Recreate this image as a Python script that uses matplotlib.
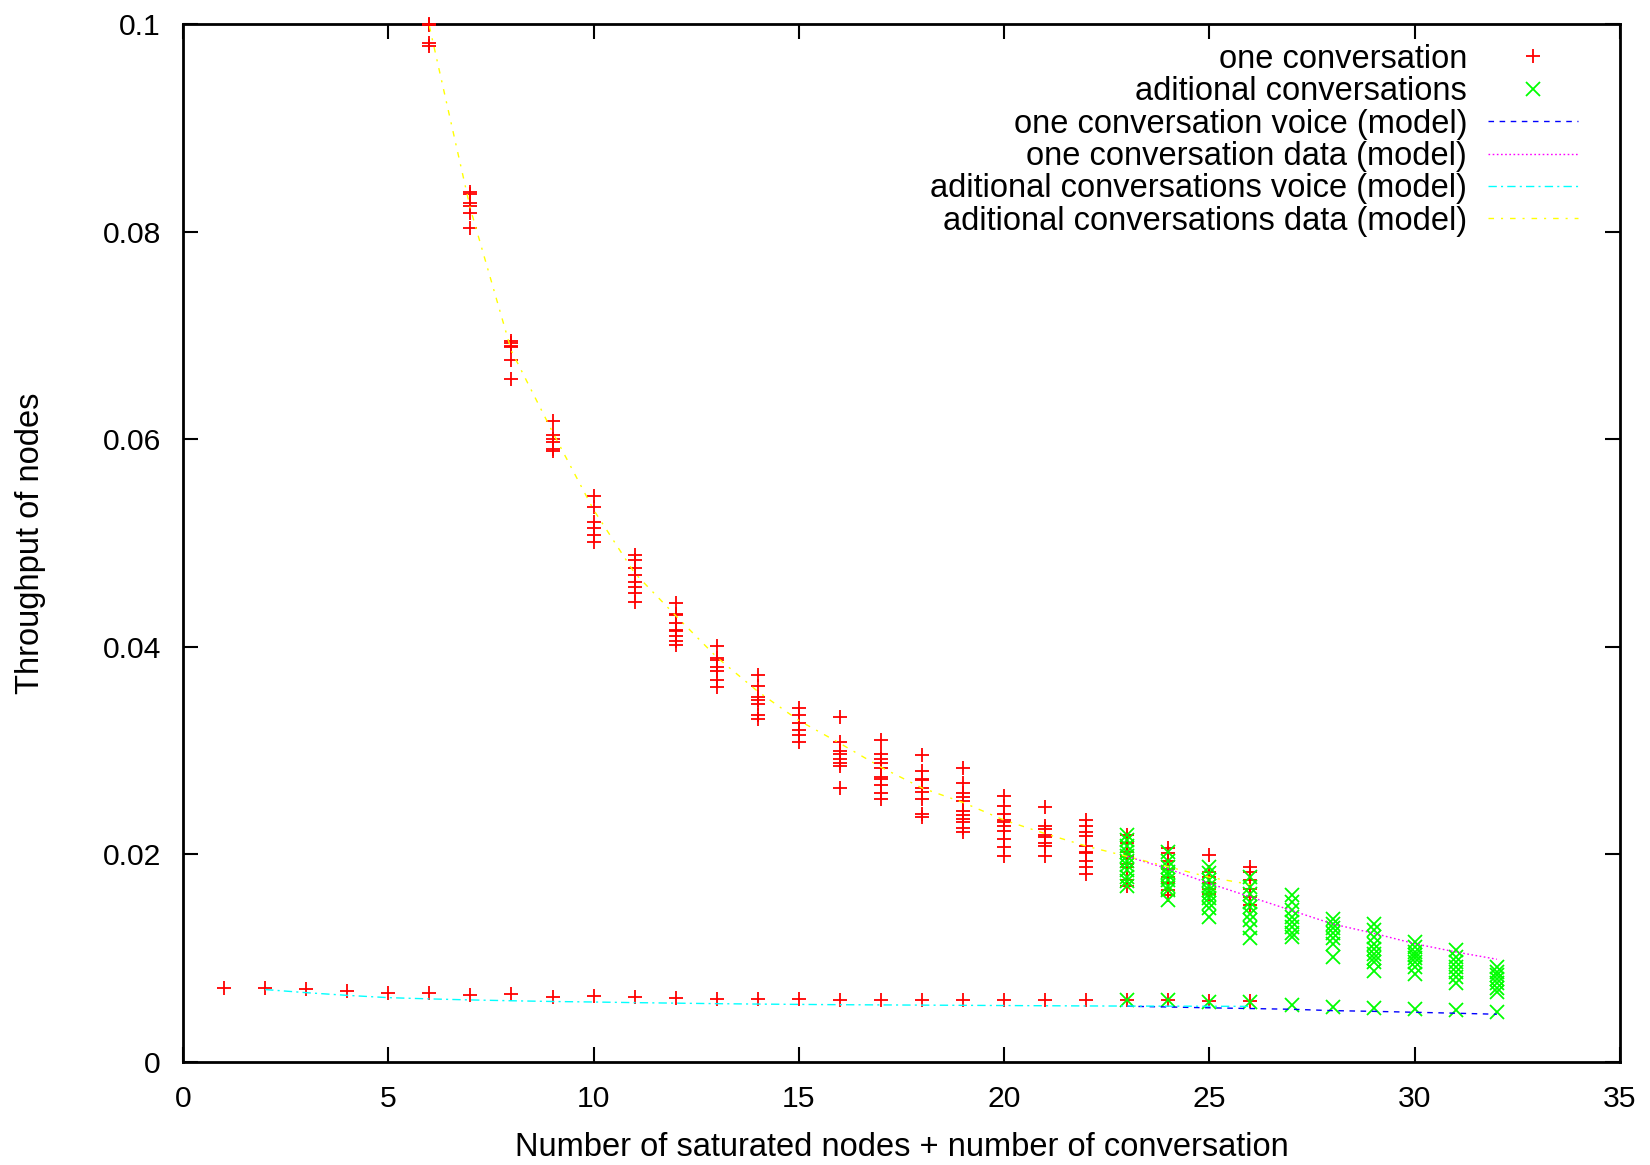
import matplotlib
matplotlib.use("Agg")
import matplotlib.pyplot as plt

plt.rcParams['font.family'] = ['Liberation Sans', 'DejaVu Sans']

# ---------------- data ----------------
# "one conversation" measurements (red +), upper cluster
one_conv_group_x = list(range(6, 27))
one_conv_groups = [
    [0.1000, 0.0999, 0.0982, 0.0979],                                   # 6
    [0.0838, 0.0836, 0.0828, 0.0825, 0.0818, 0.0803],                   # 7
    [0.0695, 0.0693, 0.0690, 0.0689, 0.0676, 0.0658],                   # 8
    [0.0618, 0.0604, 0.0600, 0.0597, 0.0591, 0.0589],                   # 9
    [0.0545, 0.0535, 0.0520, 0.0514, 0.0508, 0.0501],                   # 10
    [0.0488, 0.0484, 0.0476, 0.0469, 0.0462, 0.0458, 0.0452, 0.0443],   # 11
    [0.0442, 0.0432, 0.0431, 0.0423, 0.0416, 0.0415, 0.0410, 0.0406, 0.0402],  # 12
    [0.0401, 0.0389, 0.0387, 0.0381, 0.0377, 0.0368, 0.0361],           # 13
    [0.0373, 0.0362, 0.0352, 0.0349, 0.0345, 0.0334, 0.0330],           # 14
    [0.0341, 0.0334, 0.0327, 0.0320, 0.0315, 0.0308],                   # 15
    [0.0332, 0.0308, 0.0300, 0.0297, 0.0292, 0.0288, 0.0285, 0.0264],   # 16
    [0.0310, 0.0297, 0.0292, 0.0288, 0.0283, 0.0275, 0.0273, 0.0267, 0.0259, 0.0253],  # 17
    [0.0296, 0.0280, 0.0273, 0.0272, 0.0264, 0.0260, 0.0253, 0.0239, 0.0236],  # 18
    [0.0283, 0.0269, 0.0259, 0.0255, 0.0251, 0.0242, 0.0238, 0.0234, 0.0231, 0.0225, 0.0222],  # 19
    [0.0256, 0.0247, 0.0239, 0.0233, 0.0231, 0.0227, 0.0223, 0.0215, 0.0207, 0.0198],  # 20
    [0.0246, 0.0227, 0.0224, 0.0219, 0.0217, 0.0211, 0.0208, 0.0198],   # 21
    [0.0233, 0.0227, 0.0222, 0.0218, 0.0208, 0.0202, 0.0201, 0.0194, 0.0188, 0.0181],  # 22
    [0.0219, 0.0211, 0.0202, 0.0198, 0.0191, 0.0188, 0.0175, 0.0170],   # 23
    [0.0206, 0.0201, 0.0194, 0.0186, 0.0178, 0.0172, 0.0166, 0.0161],   # 24
    [0.0199, 0.0183, 0.0178, 0.0172, 0.0167, 0.0162],                   # 25
    [0.0188, 0.0183, 0.0175, 0.0167, 0.0159, 0.0151],                   # 26
]
# "one conversation" measurements (red +), lower (voice) row
one_conv_low_x = list(range(1, 27))
one_conv_low_y = [0.00717, 0.00717, 0.00700, 0.00688, 0.00669, 0.00665, 0.00646,
                  0.00653, 0.00630, 0.00636, 0.00624, 0.00620, 0.00610, 0.00605,
                  0.00605, 0.00600, 0.00600, 0.00595, 0.00595, 0.00595, 0.00593,
                  0.00593, 0.00600, 0.00600, 0.00585, 0.00590]

# "aditional conversations" measurements (green x), upper cluster
add_conv_group_x = list(range(23, 33))
add_conv_groups = [
    [0.0219, 0.0214, 0.0208, 0.0202, 0.0198, 0.0194, 0.0190, 0.0185, 0.0178, 0.0174, 0.0170],  # 23
    [0.0202, 0.0194, 0.0188, 0.0183, 0.0180, 0.0175, 0.0170, 0.0166, 0.0156],  # 24
    [0.0188, 0.0182, 0.0175, 0.0170, 0.0166, 0.0162, 0.0158, 0.0153, 0.0148, 0.0140],  # 25
    [0.0178, 0.0169, 0.0162, 0.0154, 0.0149, 0.0143, 0.0137, 0.0129, 0.0119],  # 26
    [0.0161, 0.0154, 0.0146, 0.0140, 0.0135, 0.0130, 0.0124, 0.0120],   # 27
    [0.0138, 0.0133, 0.0129, 0.0124, 0.0119, 0.0114, 0.0101],           # 28
    [0.0133, 0.0127, 0.0120, 0.0114, 0.0109, 0.0104, 0.0100, 0.0096, 0.0088],  # 29
    [0.0116, 0.0111, 0.0106, 0.0103, 0.0100, 0.0096, 0.0092, 0.0085],   # 30
    [0.0108, 0.0101, 0.0096, 0.0092, 0.0087, 0.0082, 0.0076],           # 31
    [0.0092, 0.0087, 0.0084, 0.0080, 0.0076, 0.0071, 0.0067],           # 32
]
# "aditional conversations" measurements (green x), lower (voice) row
add_conv_low_x = list(range(23, 33))
add_conv_low_y = [0.0060, 0.0060, 0.0058, 0.0058, 0.0055, 0.0053, 0.0052, 0.0051, 0.0050, 0.0048]

# model curves
one_voice_x = list(range(23, 33))
one_voice_y = [0.00537, 0.00530, 0.00522, 0.00515, 0.00508, 0.00495, 0.00488, 0.00479, 0.00470, 0.00460]
one_data_x = list(range(23, 33))
one_data_y = [0.0198, 0.0186, 0.0172, 0.0159, 0.0146, 0.0133, 0.0124, 0.0114, 0.0106, 0.0099]
add_voice_x = list(range(2, 27))
add_voice_y = [0.00698, 0.00668, 0.00642, 0.00620, 0.00608, 0.00598, 0.00590, 0.00583,
               0.00578, 0.00572, 0.00567, 0.00562, 0.00558, 0.00555, 0.00552, 0.00550,
               0.00548, 0.00546, 0.00544, 0.00542, 0.00540, 0.00539, 0.00538, 0.00537,
               0.00536]
add_data_x = list(range(6, 27))
add_data_y = [0.0998, 0.0822, 0.0685, 0.0607, 0.0532, 0.0471, 0.0430, 0.0390, 0.0357,
              0.0329, 0.0307, 0.0284, 0.0264, 0.0250, 0.0233, 0.0220, 0.0208, 0.0198,
              0.0188, 0.0178, 0.0171]

x_ticks = [0, 5, 10, 15, 20, 25, 30, 35]
y_ticks = [0, 0.02, 0.04, 0.06, 0.08, 0.1]
y_tick_labels = ["0", "0.02", "0.04", "0.06", "0.08", "0.1"]

labels = ["one conversation", "aditional conversations",
          "one conversation voice (model)", "one conversation data (model)",
          "aditional conversations voice (model)", "aditional conversations data (model)"]
x_label = "Number of saturated nodes + number of conversation"
y_label = "Throughput of nodes"

# ---------------- plot ----------------
fig = plt.figure(figsize=(16.5, 11.65), dpi=100)
ax = fig.add_axes([183 / 1650, 1 - 1062 / 1165, 1437 / 1650, 1038 / 1165])

red = '#ff0000'
green = '#00ff00'

rx, ry = [], []
for xv, ys in zip(one_conv_group_x, one_conv_groups):
    rx += [xv] * len(ys)
    ry += ys
rx += one_conv_low_x
ry += one_conv_low_y
gx, gy = [], []
for xv, ys in zip(add_conv_group_x, add_conv_groups):
    gx += [xv] * len(ys)
    gy += ys
gx += add_conv_low_x
gy += add_conv_low_y

ax.plot(rx, ry, linestyle='none', marker='+', markersize=10.5, markeredgewidth=1.3,
        color=red, label=labels[0], clip_on=False, zorder=3)
ax.plot(gx, gy, linestyle='none', marker='x', markersize=10.5, markeredgewidth=1.3,
        color=green, label=labels[1], zorder=3)
ax.plot(one_voice_x, one_voice_y, color='#0000ff', lw=1.0, linestyle=(0, (4, 4)),
        label=labels[2], zorder=4)
ax.plot(one_data_x, one_data_y, color='#ff00ff', lw=1.0, linestyle=(0, (1.2, 1.8)),
        label=labels[3], zorder=4)
ax.plot(add_voice_x, add_voice_y, color='#00ffff', lw=1.0, linestyle=(0, (6, 3, 1.5, 3)),
        label=labels[4], zorder=4)
ax.plot(add_data_x, add_data_y, color='#ffff00', lw=1.0, linestyle=(0, (4, 5, 1.5, 5)),
        label=labels[5], zorder=4)

ax.set_xlim(0, 35)
ax.set_ylim(0, 0.1)
ax.set_xticks(x_ticks)
ax.set_xticklabels([str(v) for v in x_ticks])
ax.set_yticks(y_ticks)
ax.set_yticklabels(y_tick_labels)

for s in ax.spines.values():
    s.set_linewidth(2.0)
ax.tick_params(direction='in', length=10.5, width=1.5, top=True, right=True,
               labelsize=21.7)
ax.tick_params(axis='x', pad=16.5)
ax.tick_params(axis='y', pad=16)

ax.set_xlabel(x_label, fontsize=23.5, labelpad=14)
ax.set_ylabel(y_label, fontsize=23.5)
ax.yaxis.set_label_coords((46 - 183) / 1437, 0.5)

leg = ax.legend(loc='upper right', bbox_to_anchor=((1578 - 183) / 1437, 0.981),
                frameon=False, markerfirst=False, fontsize=23.5, borderpad=0,
                borderaxespad=0, handlelength=2.75, handletextpad=0.65,
                labelspacing=0.044, numpoints=1)

fig.savefig("out.png", dpi=100)
